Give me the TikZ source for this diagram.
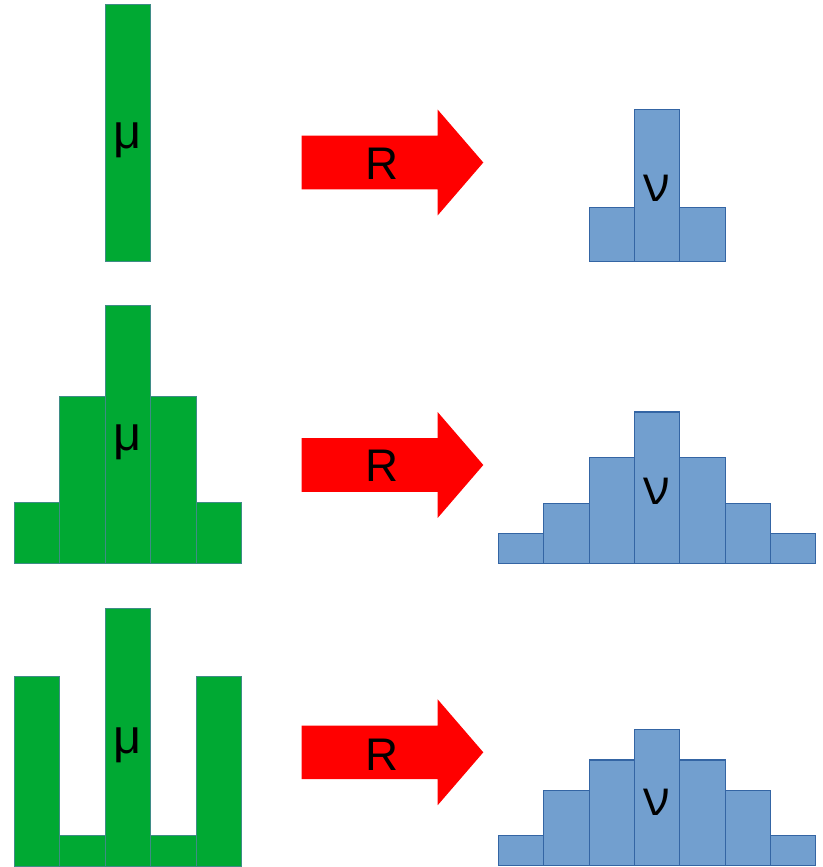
\documentclass[tikz,border=0pt]{standalone}
\usepackage{fontspec}
\setmainfont{Liberation Sans}
\newfontfamily\nufont{Open Sans}
\definecolor{gfill}{HTML}{00A933}
\definecolor{gline}{HTML}{3F8C86}
\definecolor{bfill}{HTML}{729FCF}
\definecolor{bline}{HTML}{3465A4}
\definecolor{rfill}{HTML}{FF0000}
\tikzset{
  greenbar/.style={fill=gfill,draw=gline,line width=0.45pt},
  bluebar/.style={fill=bfill,draw=bline,line width=0.9pt},
  bigarrow/.style={fill=rfill,draw=none},
  mulabel/.style={anchor=base,inner sep=0pt,font=\fontsize{36.5}{40}\selectfont},
  rlabel/.style={anchor=base,inner sep=0pt,font=\fontsize{34.3}{40}\selectfont},
  nulabel/.style={anchor=base,inner sep=0pt,font=\nufont\fontsize{37}{42}\selectfont},
}
\newcommand\myarrow[1]{%
  \fill[bigarrow] (301.7,#1-26.8) -- (437.7,#1-26.8) -- (437.7,#1-52.9) -- (483.3,#1)
    -- (437.7,#1+52.9) -- (437.7,#1+26.8) -- (301.7,#1+26.8) -- cycle;}
\begin{document}
\begin{tikzpicture}[x=0.75pt,y=-0.75pt]
\useasboundingbox (0,0) rectangle (823,867);
% ---------- Row 1 ----------
\draw[greenbar] (105,4) rectangle (150.5,261);
\node[mulabel] (mu1) at (127.8,148) {μ};
\myarrow{162.5}
\node[rlabel] (R1) at (382,179.5) {R};
\draw[bluebar] (589.2,207.7) rectangle (634.5,261.3);
\draw[bluebar] (679.8,207.7) rectangle (725.2,261.3);
\draw[bluebar] (634.5,109.3) rectangle (679.8,261.3);
\node[nulabel] (nu1) at (657,201.5) {ν};
% ---------- Row 2 ----------
\draw[greenbar] (14,502.3) rectangle (59.5,563.3);
\draw[greenbar] (59.5,396.7) rectangle (105,563.3);
\draw[greenbar] (105,305.7) rectangle (150.5,563.3);
\draw[greenbar] (150.5,396.7) rectangle (196,563.3);
\draw[greenbar] (196,502.3) rectangle (241.5,563.3);
\node[mulabel] (mu2) at (127.8,450.6) {μ};
\myarrow{465}
\node[rlabel] (R2) at (382,481.7) {R};
\draw[bluebar] (498.3,533.3) rectangle (543.7,563.3);
\draw[bluebar] (770.5,533.3) rectangle (815.8,563.3);
\draw[bluebar] (543.7,503.3) rectangle (589.2,563.3);
\draw[bluebar] (725.2,503.3) rectangle (770.5,563.3);
\draw[bluebar] (589.2,457.3) rectangle (634.5,563.3);
\draw[bluebar] (679.8,457.3) rectangle (725.2,563.3);
\draw[bluebar] (634.5,412) rectangle (679.8,563.3);
\node[nulabel] (nu2) at (657,504.5) {ν};
% ---------- Row 3 ----------
\draw[greenbar] (14,676.7) rectangle (59.5,866);
\draw[greenbar] (59.5,835.3) rectangle (105,866);
\draw[greenbar] (105,608.3) rectangle (150.5,866);
\draw[greenbar] (150.5,835.3) rectangle (196,866);
\draw[greenbar] (196,676.7) rectangle (241.5,866);
\node[mulabel] (mu3) at (127.8,753.7) {μ};
\myarrow{752.3}
\node[rlabel] (R3) at (382,770) {R};
\draw[bluebar] (498.3,835.7) rectangle (543.7,865.7);
\draw[bluebar] (770.5,835.7) rectangle (815.8,865.7);
\draw[bluebar] (543.7,790.3) rectangle (589.2,865.7);
\draw[bluebar] (725.2,790.3) rectangle (770.5,865.7);
\draw[bluebar] (589.2,760) rectangle (634.5,865.7);
\draw[bluebar] (679.8,760) rectangle (725.2,865.7);
\draw[bluebar] (634.5,729.7) rectangle (679.8,865.7);
\node[nulabel] (nu3) at (657,815.5) {ν};
\end{tikzpicture}
\end{document}
